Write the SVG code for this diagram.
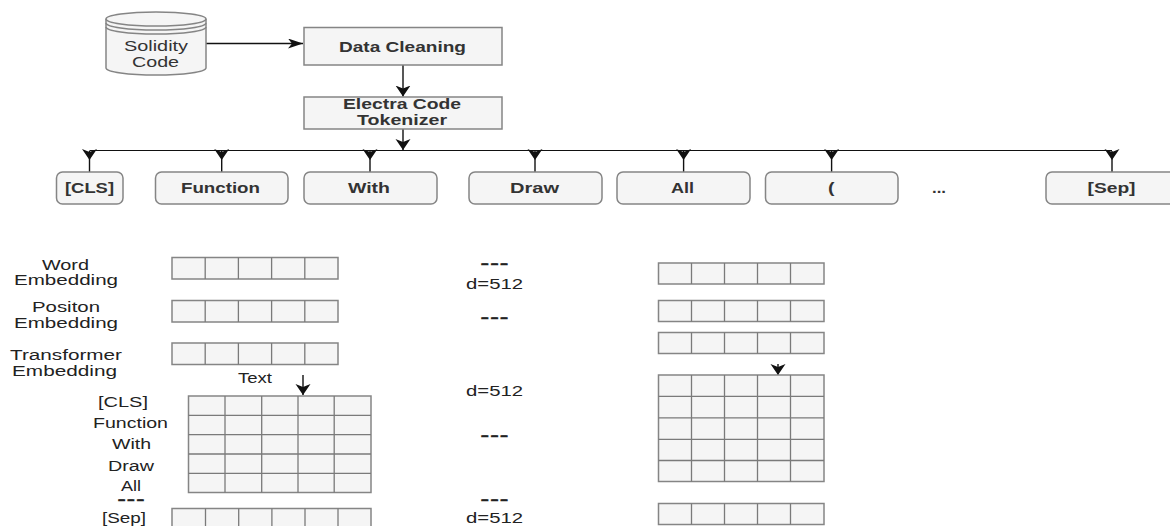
<svg xmlns="http://www.w3.org/2000/svg" width="1170" height="526" viewBox="0 0 1170 526">
<style>
text{font-family:"Liberation Sans",Arial,sans-serif;font-size:14px;fill:#333}
.b{font-weight:bold}
.k{fill:#222}
.dots{font-weight:bold;font-size:9px;fill:#222;stroke:#222;stroke-width:.6}
.box{fill:#f5f5f5;stroke:#858585;stroke-width:1.5}
.grid{fill:none;stroke:#7a7a7a;stroke-width:1.3}
.c{fill:none;stroke:#111;stroke-width:1.4}
.h{fill:none;stroke:#111;stroke-width:1.2}
</style>
<defs>
<marker id="ad" markerUnits="userSpaceOnUse" markerWidth="18" markerHeight="14" refX="8" refY="11" orient="0"><path d="M0.5,0 L8,3 L15.5,0 L8,11 Z" fill="#111"/></marker>
<marker id="ar" markerUnits="userSpaceOnUse" markerWidth="16" markerHeight="12" refX="15" refY="5" orient="0"><path d="M0,0 L4,5 L0,10 L15,5 Z" fill="#111"/></marker>
</defs>
<rect width="1170" height="526" fill="#fff"/>
<g id="connectors">
<path class="c" d="M205,43.5 H303" marker-end="url(#ar)"/>
<path class="c" d="M403,65 V96.5" marker-end="url(#ad)"/>
<path class="c" d="M403,129 V150" marker-end="url(#ad)"/>
<path class="h" d="M89.5,150.5 H1112"/>
<path class="c" d="M89.5,151 V160 V172" marker-mid="url(#ad)"/>
<path class="c" d="M221.7,151 V160 V172" marker-mid="url(#ad)"/>
<path class="c" d="M370,151 V160 V172" marker-mid="url(#ad)"/>
<path class="c" d="M535,151 V160 V172" marker-mid="url(#ad)"/>
<path class="c" d="M683.6,151 V160 V172" marker-mid="url(#ad)"/>
<path class="c" d="M831.6,151 V160 V172" marker-mid="url(#ad)"/>
<path class="c" d="M1112,151 V160 V172" marker-mid="url(#ad)"/>
<path class="c" d="M303,375 V395" marker-end="url(#ad)"/>
<path class="c" d="M778,364 V375" marker-end="url(#ad)"/>
</g>
<g id="solidity-code">
<path class="box" d="M106,19 A50,7 0 0 1 206,19 V68 A50,7 0 0 1 106,68 Z"/>
<path class="box" style="fill:none" d="M106,19 A50,7 0 0 0 206,19 M106,23 A50,7 0 0 0 206,23 M106,27 A50,7 0 0 0 206,27"/>
<text x="124" y="50.700" textLength="64" lengthAdjust="spacingAndGlyphs">Solidity</text>
<text x="132" y="66.700" textLength="47" lengthAdjust="spacingAndGlyphs">Code</text>
</g>
<g id="data-cleaning"><rect class="box" x="304" y="27.500" width="198" height="37.500"/>
<text class="b" x="339" y="52" textLength="127" lengthAdjust="spacingAndGlyphs">Data Cleaning</text></g>
<g id="tokenizer"><rect class="box" x="304" y="97" width="198" height="32"/>
<text class="b" x="343" y="109" textLength="118" lengthAdjust="spacingAndGlyphs">Electra Code</text>
<text class="b" x="357" y="125" textLength="90" lengthAdjust="spacingAndGlyphs">Tokenizer</text></g>
<g id="tok-cls"><rect class="box" x="56.500" y="172" width="66.500" height="32" rx="6"/><text class="b" x="65" y="193" textLength="49" lengthAdjust="spacingAndGlyphs">[CLS]</text></g>
<g id="tok-function"><rect class="box" x="155.500" y="172" width="132.500" height="32" rx="6"/><text class="b" x="181" y="193" textLength="79" lengthAdjust="spacingAndGlyphs">Function</text></g>
<g id="tok-with"><rect class="box" x="304" y="172" width="133" height="32" rx="6"/><text class="b" x="348" y="193" textLength="42" lengthAdjust="spacingAndGlyphs">With</text></g>
<g id="tok-draw"><rect class="box" x="469" y="172" width="133" height="32" rx="6"/><text class="b" x="510" y="193" textLength="49" lengthAdjust="spacingAndGlyphs">Draw</text></g>
<g id="tok-all"><rect class="box" x="617" y="172" width="133" height="32" rx="6"/><text class="b" x="671" y="193" textLength="23" lengthAdjust="spacingAndGlyphs">All</text></g>
<g id="tok-paren"><rect class="box" x="765.500" y="172" width="132.500" height="32" rx="6"/><text class="b" x="828" y="193" textLength="6.500" lengthAdjust="spacingAndGlyphs">(</text></g>
<g id="tok-dots"><text class="b" x="932" y="193" textLength="14" lengthAdjust="spacingAndGlyphs">...</text></g>
<g id="tok-sep"><rect class="box" x="1046" y="172" width="133" height="32" rx="6"/><text class="b" x="1087.500" y="193" textLength="48" lengthAdjust="spacingAndGlyphs">[Sep]</text></g>
<g id="labels">
<text class="k" x="42" y="270" textLength="47" lengthAdjust="spacingAndGlyphs">Word</text>
<text class="k" x="14" y="285" textLength="104" lengthAdjust="spacingAndGlyphs">Embedding</text>
<text class="k" x="32" y="312" textLength="68" lengthAdjust="spacingAndGlyphs">Positon</text>
<text class="k" x="14" y="328" textLength="104" lengthAdjust="spacingAndGlyphs">Embedding</text>
<text class="k" x="10" y="360" textLength="112" lengthAdjust="spacingAndGlyphs">Transformer</text>
<text class="k" x="12" y="376" textLength="105" lengthAdjust="spacingAndGlyphs">Embedding</text>
<text class="k" x="238" y="383" textLength="34" lengthAdjust="spacingAndGlyphs">Text</text>
<text class="k" x="98" y="407" textLength="50" lengthAdjust="spacingAndGlyphs">[CLS]</text>
<text class="k" x="93" y="428" textLength="75" lengthAdjust="spacingAndGlyphs">Function</text>
<text class="k" x="112" y="449" textLength="39" lengthAdjust="spacingAndGlyphs">With</text>
<text class="k" x="108" y="471" textLength="46" lengthAdjust="spacingAndGlyphs">Draw</text>
<text class="k" x="121" y="491" textLength="20" lengthAdjust="spacingAndGlyphs">All</text>
<text class="dots" x="117" y="501" textLength="28" lengthAdjust="spacingAndGlyphs">...</text>
<text class="k" x="102" y="523" textLength="44" lengthAdjust="spacingAndGlyphs">[Sep]</text>
<text class="dots" x="480" y="265" textLength="29" lengthAdjust="spacingAndGlyphs">...</text>
<text class="k" x="466" y="289" textLength="57" lengthAdjust="spacingAndGlyphs">d=512</text>
<text class="dots" x="480" y="319" textLength="29" lengthAdjust="spacingAndGlyphs">...</text>
<text class="k" x="466" y="396" textLength="57" lengthAdjust="spacingAndGlyphs">d=512</text>
<text class="dots" x="480" y="437" textLength="29" lengthAdjust="spacingAndGlyphs">...</text>
<text class="dots" x="480" y="501" textLength="29" lengthAdjust="spacingAndGlyphs">...</text>
<text class="k" x="466" y="523" textLength="57" lengthAdjust="spacingAndGlyphs">d=512</text>
</g>
<g id="word-row"><rect class="box" x="172" y="257.500" width="166" height="21.500"/><path class="grid" d="M205.200,257.500V279M238.400,257.500V279M271.600,257.500V279M304.800,257.500V279"/></g>
<g id="position-row"><rect class="box" x="172" y="300.500" width="166" height="21.500"/><path class="grid" d="M205.200,300.500V322M238.400,300.500V322M271.600,300.500V322M304.800,300.500V322"/></g>
<g id="transformer-row"><rect class="box" x="172" y="343" width="166" height="21.500"/><path class="grid" d="M205.200,343V364.500M238.400,343V364.500M271.600,343V364.500M304.800,343V364.500"/></g>
<g id="left-grid"><rect class="box" x="188.500" y="396" width="182.500" height="96.500"/><path class="grid" d="M225,396V492.500M261.700,396V492.500M298,396V492.500M334.200,396V492.500M188.500,415.300H371M188.500,434.700H371M188.500,454H371M188.500,473.300H371"/></g>
<g id="sep-row"><rect class="box" x="172" y="508.500" width="199" height="22"/><path class="grid" d="M205.500,508.500V530M238.700,508.500V530M271.900,508.500V530M305,508.500V530M338,508.500V530"/></g>
<g id="right-row-1"><rect class="box" x="658.500" y="263" width="165.500" height="21"/><path class="grid" d="M691.500,263V284M724.500,263V284M757.500,263V284M790.500,263V284"/></g>
<g id="right-row-2"><rect class="box" x="658.500" y="300.500" width="165.500" height="21"/><path class="grid" d="M691.500,300.500V321.500M724.500,300.500V321.500M757.500,300.500V321.500M790.500,300.500V321.500"/></g>
<g id="right-row-3"><rect class="box" x="658.500" y="332.500" width="165.500" height="21"/><path class="grid" d="M691.500,332.500V353.500M724.500,332.500V353.500M757.500,332.500V353.500M790.500,332.500V353.500"/></g>
<g id="right-grid"><rect class="box" x="658.500" y="375" width="165.500" height="106.500"/><path class="grid" d="M691.500,375V481.500M724.500,375V481.500M757.500,375V481.500M790.500,375V481.500M658.500,396.300H824M658.500,417.800H824M658.500,439.300H824M658.500,460.500H824"/></g>
<g id="right-row-4"><rect class="box" x="658.500" y="503.500" width="165.500" height="21"/><path class="grid" d="M691.500,503.500V524.500M724.500,503.500V524.500M757.500,503.500V524.500M790.500,503.500V524.500"/></g>
</svg>
